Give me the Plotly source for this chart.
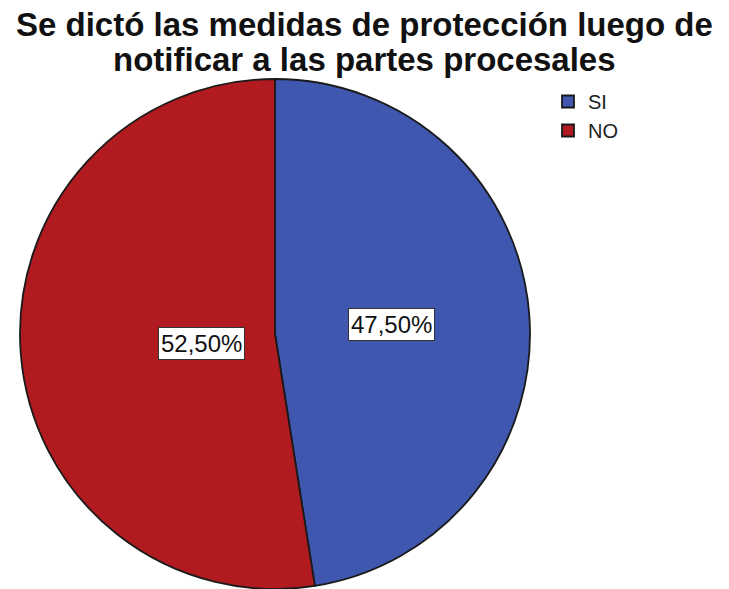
import math
import plotly.graph_objects as go

# Respuestas y porcentajes
categorias = ["SI", "NO"]
porcentajes = [47.5, 52.5]
colores = ["#3F57AE", "#B11A1F"]

etiquetas = [f"{v:.2f}%".replace(".", ",") for v in porcentajes]
titulo = ["Se dictó las medidas de protección luego de",
          "notificar a las partes procesales"]

W, H = 729, 589

fig = go.Figure()
fig.add_trace(go.Pie(
    labels=categorias,
    values=porcentajes,
    sort=False,
    direction="clockwise",
    rotation=0,
    marker=dict(colors=colores, line=dict(color="#1a1a1a", width=1.8)),
    textinfo="none",
    hoverinfo="label+percent",
    domain=dict(x=[20 / W, 530 / W], y=[0.0, 1 - 79 / H]),
    showlegend=True,
))

# Etiquetas de porcentaje en recuadros blancos, dentro de cada sector
cx, cy, r = 275, 334, 255
angulo = 0.0
for v, t in zip(porcentajes, etiquetas):
    medio = angulo + v / 100 * 360 / 2
    angulo += v / 100 * 360
    rad = math.radians(medio)
    px = cx + 0.46 * r * math.sin(rad)
    py = cy - 0.46 * r * math.cos(rad)
    fig.add_annotation(
        x=px / W, y=1 - py / H, xref="paper", yref="paper",
        text=t, showarrow=False,
        font=dict(family="Liberation Sans, Arial", size=24, color="#111111"),
        bgcolor="white", bordercolor="#333333", borderwidth=1, borderpad=2,
    )

# Título en dos líneas con interlineado compacto
for linea, yc in zip(titulo, [25, 60]):
    fig.add_annotation(
        x=0.5, y=1 - yc / H, xref="paper", yref="paper",
        xanchor="center", yanchor="middle",
        text=f"<b>{linea}</b>", showarrow=False,
        font=dict(family="Liberation Sans, Arial", size=33, color="#111111"),
    )

fig.update_layout(
    width=W, height=H,
    margin=dict(l=0, r=0, t=0, b=0),
    paper_bgcolor="white",
    plot_bgcolor="white",
    legend=dict(
        x=548 / W, y=1 - 82 / H, xanchor="left", yanchor="top",
        font=dict(family="Liberation Sans, Arial", size=20, color="#222222"),
        bgcolor="rgba(0,0,0,0)", tracegroupgap=0, itemwidth=30,
    ),
)

fig.write_html("out.html")
